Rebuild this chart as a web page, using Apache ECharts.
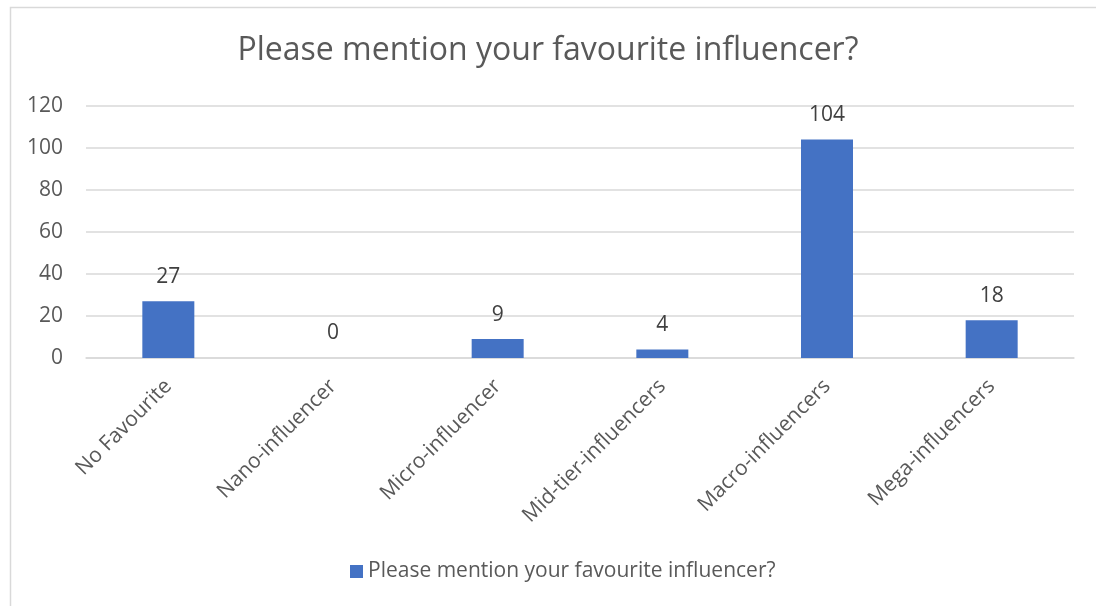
<!DOCTYPE html>
<html>
<head>
<meta charset="utf-8">
<script src="https://cdn.jsdelivr.net/npm/echarts@6/dist/echarts.min.js"></script>
<style>
  html, body { margin: 0; padding: 0; background: #fff; }
  #chart { width: 1096px; height: 606px; }
</style>
</head>
<body>
<div id="chart"></div>
<script>
// Survey answers: favourite influencer tier
const chartTitle = 'Please mention your favourite influencer?';
const seriesName = 'Please mention your favourite influencer?';
const categories = ['No Favourite', 'Nano-influencer', 'Micro-influencer', 'Mid-tier-influencers', 'Macro-influencers', 'Mega-influencers'];
const counts = [27, 0, 9, 4, 104, 18];
const yTicks = { min: 0, max: 120, interval: 20 };

const FONT = '"Open Sans", "Liberation Sans", Arial, sans-serif';
const TEXT = '#595959';

const chart = echarts.init(document.getElementById('chart'), null, { renderer: 'canvas' });
chart.setOption({
  backgroundColor: '#ffffff',
  animation: false,
  graphic: [{
    type: 'rect',
    shape: { x: 10.5, y: 7.5, width: 1200, height: 700 },
    style: { fill: 'none', stroke: '#d9d9d9', lineWidth: 1.5 },
    silent: true
  }],
  title: {
    text: chartTitle,
    left: 'center',
    top: 30,
    textStyle: { fontFamily: FONT, fontSize: 32, fontWeight: 'normal', color: TEXT }
  },
  legend: {
    bottom: 19,
    left: 345,
    itemWidth: 13,
    itemHeight: 13,
    itemGap: 7,
    icon: 'rect',
    textStyle: { fontFamily: FONT, fontSize: 21, color: TEXT },
    data: [seriesName]
  },
  grid: { left: 86, right: 22, top: 106, bottom: 248, containLabel: false },
  xAxis: {
    type: 'category',
    data: categories,
    axisLine: { lineStyle: { color: '#d9d9d9', width: 1.5 } },
    axisTick: { show: false },
    axisLabel: {
      rotate: 45,
      interval: 0,
      margin: 25,
      fontFamily: FONT,
      fontSize: 21,
      color: TEXT
    }
  },
  yAxis: {
    type: 'value',
    min: yTicks.min,
    max: yTicks.max,
    interval: yTicks.interval,
    axisLine: { show: false },
    axisTick: { show: false },
    splitLine: { lineStyle: { color: '#d9d9d9', width: 1.5 } },
    axisLabel: { margin: 23, fontFamily: FONT, fontSize: 21, color: TEXT }
  },
  series: [{
    name: seriesName,
    type: 'bar',
    data: counts,
    barWidth: 52,
    itemStyle: { color: '#4472c4' },
    label: {
      show: true,
      position: 'top',
      distance: 14,
      fontFamily: FONT,
      fontSize: 21,
      color: '#404040'
    }
  }]
});
</script>
</body>
</html>
